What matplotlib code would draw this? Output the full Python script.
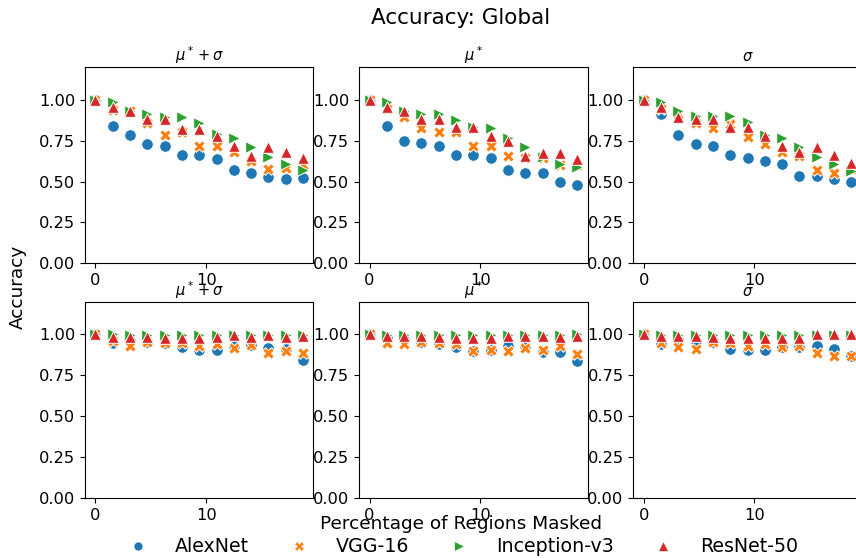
import numpy as np
import matplotlib
matplotlib.use("Agg")
import matplotlib.pyplot as plt
from matplotlib.lines import Line2D

# percentage of regions masked (0..12 of 64 regions)
masked_pct = [0.0, 1.5625, 3.125, 4.6875, 6.25, 7.8125, 9.375,
              10.9375, 12.5, 14.0625, 15.625, 17.1875, 18.75]

models = ["AlexNet", "VGG-16", "Inception-v3", "ResNet-50"]
colors = ["#1f77b4", "#ff7f0e", "#2ca02c", "#d62728"]
markers = ["o", "X", ">", "^"]
titles = [r"$\mu^* + \sigma$", r"$\mu^*$", r"$\sigma$"]

# top row
top_mu_sigma = {
    "AlexNet":      [1.0, 0.84, 0.785, 0.73, 0.715, 0.66, 0.66, 0.64, 0.57, 0.55, 0.53, 0.515, 0.52],
    "VGG-16":       [1.0, 0.94, 0.93, 0.855, 0.785, 0.80, 0.715, 0.715, 0.68, 0.625, 0.575, 0.585, 0.60],
    "Inception-v3": [1.0, 0.985, 0.93, 0.915, 0.895, 0.895, 0.855, 0.79, 0.765, 0.71, 0.65, 0.605, 0.57],
    "ResNet-50":    [1.0, 0.955, 0.928, 0.883, 0.883, 0.82, 0.82, 0.78, 0.72, 0.657, 0.708, 0.678, 0.645],
}
top_mu = {
    "AlexNet":      [1.0, 0.84, 0.75, 0.733, 0.715, 0.66, 0.66, 0.643, 0.57, 0.553, 0.553, 0.50, 0.48],
    "VGG-16":       [1.0, 0.945, 0.897, 0.828, 0.80, 0.80, 0.715, 0.715, 0.655, 0.643, 0.643, 0.60, 0.60],
    "Inception-v3": [1.0, 0.985, 0.93, 0.914, 0.914, 0.873, 0.832, 0.828, 0.766, 0.708, 0.651, 0.61, 0.59],
    "ResNet-50":    [1.0, 0.955, 0.928, 0.883, 0.883, 0.836, 0.836, 0.78, 0.75, 0.657, 0.676, 0.676, 0.64],
}
top_sigma = {
    "AlexNet":      [1.0, 0.91, 0.784, 0.731, 0.715, 0.659, 0.643, 0.624, 0.606, 0.534, 0.534, 0.515, 0.50],
    "VGG-16":       [1.0, 0.945, 0.91, 0.856, 0.828, 0.852, 0.77, 0.729, 0.68, 0.657, 0.573, 0.555, 0.575],
    "Inception-v3": [1.0, 0.986, 0.93, 0.90, 0.90, 0.90, 0.862, 0.786, 0.766, 0.708, 0.651, 0.61, 0.565],
    "ResNet-50":    [1.0, 0.955, 0.893, 0.883, 0.883, 0.836, 0.836, 0.78, 0.715, 0.678, 0.708, 0.663, 0.616],
}

# bottom row
bot_mu_sigma = {
    "AlexNet":      [1.0, 0.945, 0.96, 0.955, 0.95, 0.925, 0.905, 0.905, 0.93, 0.935, 0.915, 0.91, 0.845],
    "VGG-16":       [1.0, 0.96, 0.93, 0.955, 0.95, 0.945, 0.93, 0.94, 0.915, 0.935, 0.884, 0.90, 0.885],
    "Inception-v3": [1.0, 1.0, 0.996, 0.996, 0.996, 0.996, 0.996, 0.996, 0.996, 0.996, 0.996, 0.996, 0.996],
    "ResNet-50":    [1.0, 0.986, 0.986, 0.982, 0.976, 0.976, 0.976, 0.982, 0.996, 0.982, 0.996, 0.986, 0.99],
}
bot_mu = {
    "AlexNet":      [1.0, 0.976, 0.965, 0.955, 0.94, 0.925, 0.90, 0.905, 0.93, 0.93, 0.89, 0.89, 0.84],
    "VGG-16":       [1.0, 0.95, 0.94, 0.955, 0.95, 0.94, 0.898, 0.905, 0.898, 0.915, 0.905, 0.93, 0.88],
    "Inception-v3": [1.0, 0.996, 0.996, 0.996, 0.996, 0.996, 0.996, 0.996, 0.996, 0.996, 0.996, 0.996, 1.0],
    "ResNet-50":    [1.0, 0.99, 0.99, 0.99, 0.982, 0.976, 0.976, 0.976, 0.99, 0.99, 0.99, 0.986, 0.99],
}
bot_sigma = {
    "AlexNet":      [1.0, 0.94, 0.965, 0.96, 0.955, 0.91, 0.905, 0.905, 0.925, 0.925, 0.93, 0.91, 0.87],
    "VGG-16":       [1.0, 0.95, 0.925, 0.91, 0.955, 0.945, 0.93, 0.94, 0.925, 0.93, 0.884, 0.868, 0.868],
    "Inception-v3": [1.0, 0.996, 0.996, 0.996, 0.996, 0.996, 0.996, 0.996, 0.996, 0.996, 0.996, 0.996, 0.996],
    "ResNet-50":    [1.0, 0.99, 0.99, 0.99, 0.982, 0.976, 0.976, 0.976, 0.98, 0.98, 1.0, 1.0, 1.0],
}

panels = [[top_mu_sigma, top_mu, top_sigma],
          [bot_mu_sigma, bot_mu, bot_sigma]]

fig, axes = plt.subplots(2, 3, figsize=(8.56, 5.58), dpi=100)
fig.subplots_adjust(left=0.0993, right=1.0067, bottom=0.1075, top=0.88,
                    wspace=0.2, hspace=0.195)

for r in range(2):
    for c in range(3):
        ax = axes[r, c]
        data = panels[r][c]
        for m, col, mk in zip(models, colors, markers):
            ax.scatter(masked_pct, data[m], s=70, c=col, marker=mk,
                       edgecolors="white", linewidths=0.7, zorder=2)
        ax.set_ylim(0, 1.2)
        ax.set_yticks([0, 0.25, 0.5, 0.75, 1.0])
        ax.set_yticklabels(["0.00", "0.25", "0.50", "0.75", "1.00"])
        ax.set_xticks([0, 10])
        ax.tick_params(labelsize=11.7)
        ax.set_title(titles[c], fontsize=10.5, pad=4)

fig.suptitle("Accuracy: Global", x=0.5386, y=0.985, fontsize=15.5)
fig.text(0.5386, 0.061, "Percentage of Regions Masked", ha="center",
         va="center", fontsize=13.3)
fig.text(0.021, 0.485, "Accuracy", ha="center", va="center",
         rotation=90, fontsize=13.3)

handles = [Line2D([], [], ls="none", marker=mk, color=col, markersize=6.5,
                  markeredgecolor="white", markeredgewidth=0.5)
           for col, mk in zip(colors, markers)]
fig.legend(handles, models, loc="center", bbox_to_anchor=(0.536, 0.02),
           ncol=4, frameon=False, fontsize=13.7, columnspacing=1.6,
           handletextpad=0.95, borderaxespad=0)

fig.savefig("out.png", dpi=100)
